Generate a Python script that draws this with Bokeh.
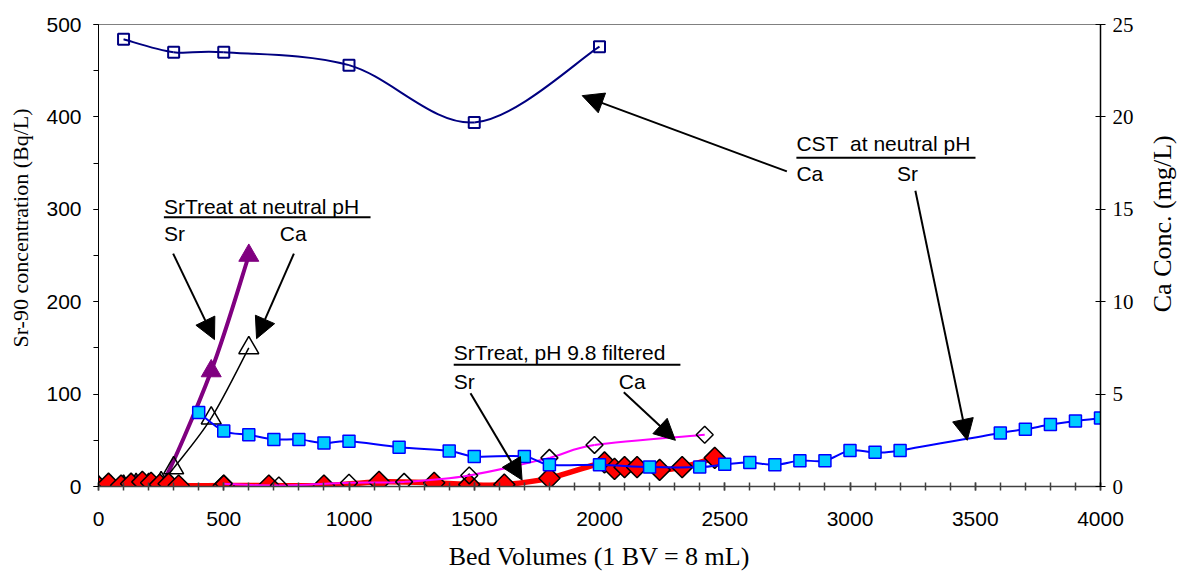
import numpy as np
from bokeh.plotting import figure
from bokeh.layouts import row
from bokeh.models import Range1d, LinearAxis, SingleIntervalTicker, Label, Arrow, NormalHead
from bokeh.embed import file_html
from bokeh.resources import INLINE

# ---------------- data ----------------
# CST at neutral pH, Ca (right axis, mg/L)
bv_cst_ca = [100, 300, 500, 1000, 1500, 2000]
ca_cst = [24.2, 23.5, 23.5, 22.8, 19.7, 23.8]

# CST at neutral pH, Sr-90 (left axis, Bq/L)
bv_cst_sr = [400, 500, 600, 700, 800, 900, 1000, 1200, 1400, 1500, 1700, 1800, 2000,
             2200, 2400, 2500, 2600, 2700, 2800, 2900, 3000, 3100, 3200, 3600, 3700,
             3800, 3900, 4000]
sr_cst = [80, 60, 56, 51, 51, 47, 49, 42.5, 38.5, 32.5, 32.5, 23.5, 23.5,
          21, 21, 24, 26, 23.5, 28, 28, 39, 37, 39, 58, 62,
          67, 71, 74]

# SrTreat at neutral pH, Sr (left) and Ca (right)
bv_srt_sr = [0, 50, 100, 150, 200, 250, 450, 600]
sr_srt = [0, 0, 0, 0, 0, 0, 125, 250]
bv_srt_ca = [40, 100, 150, 200, 250, 300, 450, 600]
ca_srt = [0, 0, 0.1, 0.1, 0.2, 1.0, 3.7, 7.5]

# SrTreat pH 9.8 filtered, Sr (left) and Ca (right)
bv_ph_sr = [0, 40, 90, 130, 175, 210, 245, 280, 320, 500, 680, 900, 1120, 1340, 1480,
            1620, 1800, 2020, 2060, 2100, 2150, 2240, 2330, 2460]
sr_ph = [0, 3, 1, 3, 5, 4, 2, 3, 1, 1, 1, 1, 5, 4, 2,
         2, 9, 26, 19, 21, 21, 18, 21, 31]
bv_ph_ca = [500, 720, 1000, 1220, 1480, 1800, 1980, 2420]
ca_ph = [0.15, 0.05, 0.2, 0.25, 0.6, 1.55, 2.25, 2.8]

x_ticks_step = 500
sr_ticks_step = 100
ca_ticks_step = 5


def smooth(xs, ys):
    """Bezier control points (Excel-like smoothed line) for a series."""
    n = len(xs)
    P = list(zip(xs, ys))
    d = dict(x0=[], y0=[], x1=[], y1=[], cx0=[], cy0=[], cx1=[], cy1=[])
    for i in range(n - 1):
        p0 = P[i - 1] if i > 0 else P[i]
        p1 = P[i]
        p2 = P[i + 1]
        p3 = P[i + 2] if i + 2 < n else P[i + 1]
        d["x0"].append(p1[0]); d["y0"].append(p1[1])
        d["x1"].append(p2[0]); d["y1"].append(p2[1])
        d["cx0"].append(p1[0] + (p2[0] - p0[0]) / 6.0)
        d["cy0"].append(p1[1] + (p2[1] - p0[1]) / 6.0)
        d["cx1"].append(p2[0] - (p3[0] - p1[0]) / 6.0)
        d["cy1"].append(p2[1] - (p3[1] - p1[1]) / 6.0)
    return d


W, H = 1148, 575
p = figure(width=W, height=H, output_backend="svg", toolbar_location=None,
           x_range=Range1d(0, 4000), y_range=Range1d(0, 500),
           min_border_left=98, min_border_right=W - 1100, min_border_top=24,
           min_border_bottom=H - 486)
p.extra_y_ranges = {"ca": Range1d(0, 25)}
p.xgrid.visible = False
p.ygrid.visible = False
p.outline_line_color = "#808080"
p.outline_line_width = 1
p.background_fill_color = "white"
p.border_fill_color = "white"

SANS = "Liberation Sans"
SERIF = "Liberation Serif"
NB = "\u00a0"

# x axis
xa = p.xaxis[0]
xa.ticker = SingleIntervalTicker(interval=x_ticks_step, num_minor_ticks=5)
xa.axis_line_color = "#404040"
xa.axis_line_width = 1.5
xa.major_tick_line_color = "#404040"
xa.minor_tick_line_color = "#404040"
xa.major_tick_line_width = 1.5
xa.minor_tick_line_width = 1.5
xa.major_tick_in = 4
xa.major_tick_out = 4
xa.minor_tick_in = 4
xa.minor_tick_out = 4
xa.major_label_standoff = 21
xa.major_label_text_font = SANS
xa.major_label_text_font_size = "21px"
xa.major_label_text_color = "black"
xa.axis_label = "Bed Volumes (1 BV = 8 mL)"
xa.axis_label_text_font = SERIF
xa.axis_label_text_font_size = "26px"
xa.axis_label_text_font_style = "normal"
xa.axis_label_text_color = "black"
xa.axis_label_standoff = 13

# left axis
ya = p.yaxis[0]
ya.ticker = SingleIntervalTicker(interval=sr_ticks_step, num_minor_ticks=2)
ya.axis_line_color = "black"
ya.axis_line_width = 1
ya.major_tick_line_color = "black"
ya.minor_tick_line_color = "black"
ya.major_tick_in = 0
ya.major_tick_out = 5
ya.minor_tick_in = 0
ya.minor_tick_out = 5
ya.major_label_standoff = 12
ya.major_label_text_font = SANS
ya.major_label_text_font_size = "21px"
ya.major_label_text_color = "black"
ya.axis_label = NB * 10 + "Sr-90 concentration (Bq/L)"
ya.axis_label_text_font = SERIF
ya.axis_label_text_font_size = "22px"
ya.axis_label_text_font_style = "normal"
ya.axis_label_text_color = "black"
ya.axis_label_standoff = 10

# right axis (Ca)
ra = LinearAxis(y_range_name="ca", ticker=SingleIntervalTicker(interval=ca_ticks_step, num_minor_ticks=0))
ra.axis_line_color = "black"
ra.axis_line_width = 1.5
ra.major_tick_line_color = "black"
ra.major_tick_in = 5
ra.major_tick_out = 5
ra.minor_tick_line_color = None
ra.major_label_standoff = 7
ra.major_label_text_font = SERIF
ra.major_label_text_font_size = "21px"
ra.major_label_text_color = "black"
p.add_layout(ra, "right")

# ---------------- series ----------------
# SrTreat neutral Sr (purple)
p.bezier(**smooth(bv_srt_sr, sr_srt), line_color="#800080", line_width=4, line_cap="round")
p.scatter(bv_srt_sr, sr_srt, marker="triangle", size=20, fill_color="#800080", line_color="#800080")

# SrTreat neutral Ca (open triangles, black line)
p.bezier(**smooth(bv_srt_ca, ca_srt), line_color="black", line_width=1.5, y_range_name="ca")
p.scatter(bv_srt_ca, ca_srt, marker="triangle", size=20, fill_alpha=0, line_color="black",
          line_width=1.5, y_range_name="ca")

# SrTreat pH 9.8 Sr (red diamonds, thick red line)
p.bezier(**smooth(bv_ph_sr, sr_ph), line_color="#FF0000", line_width=5.5, line_cap="round")
p.scatter(bv_ph_sr, sr_ph, marker="square", angle=np.pi / 4, size=15, fill_color="#FF0000",
          line_color="black", line_width=1.5)

# SrTreat pH 9.8 Ca (open diamonds, magenta)
p.bezier(**smooth(bv_ph_ca, ca_ph), line_color="#FF00FF", line_width=2, y_range_name="ca")
p.scatter(bv_ph_ca, ca_ph, marker="square", angle=np.pi / 4, size=12, fill_alpha=0,
          line_color="black", line_width=1.5, y_range_name="ca")

# CST Sr (cyan squares, blue line)
p.bezier(**smooth(bv_cst_sr, sr_cst), line_color="#0000FF", line_width=2)
p.scatter(bv_cst_sr, sr_cst, marker="square", size=12, fill_color="#00CCFF",
          line_color="#0000FF", line_width=1.5)

# CST Ca (open squares, navy line)
p.bezier(**smooth(bv_cst_ca, ca_cst), line_color="#000080", line_width=2, y_range_name="ca")
p.scatter(bv_cst_ca, ca_cst, marker="square", size=11, fill_alpha=0,
          line_color="#000080", line_width=2, y_range_name="ca")

# ---------------- annotations ----------------
def arrow(xs, ys, xe, ye):
    p.add_layout(Arrow(end=NormalHead(size=21, fill_color="black", line_color="black"),
                       x_start=xs, y_start=ys, x_end=xe, y_end=ye,
                       line_color="black", line_width=2))

arrow(2748, 341, 1931, 423)   # CST Ca
arrow(3261, 320, 3468, 50)    # CST Sr
arrow(298, 252, 463, 159)     # SrTreat neutral Sr
arrow(780, 252, 631, 160)     # SrTreat neutral Ca
arrow(1485, 101, 1691, 7)     # pH 9.8 Sr
arrow(2097, 102, 2303, 50)    # pH 9.8 Ca


def txt(x, y, s):
    p.add_layout(Label(x=x, y=y + 8, text=s, text_font=SANS, text_font_size="21px",
                       text_align="left", text_baseline="alphabetic", text_color="black"))

txt(261, 295.5, "SrTreat at neutral pH")
txt(261, 266, "Sr")
txt(724, 266, "Ca")
p.segment(x0=[261], y0=[291.5], x1=[1086], y1=[291.5], line_color="black", line_width=2)

txt(1418, 137, "SrTreat, pH 9.8 filtered")
txt(1418, 105.7, "Sr")
txt(2077, 105.7, "Ca")
p.segment(x0=[1418], y0=[131.7], x1=[2323], y1=[131.7], line_color="black", line_width=2)

txt(2786, 363, "CST\u00a0\u00a0at neutral pH")
txt(2786, 331, "Ca")
txt(3188, 331, "Sr")
p.segment(x0=[2786], y0=[355.7], x1=[3501], y1=[355.7], line_color="black", line_width=2)

# ---------------- right-hand axis title strip ----------------
TW = 30
t = figure(width=TW, height=H, output_backend="svg", toolbar_location=None,
           x_range=Range1d(0, TW), y_range=Range1d(0, H),
           x_axis_type=None, y_axis_type=None,
           min_border_left=0, min_border_right=0, min_border_top=0, min_border_bottom=0)
t.xgrid.visible = False
t.ygrid.visible = False
t.outline_line_color = None
t.background_fill_color = "white"
t.border_fill_color = "white"
t.add_layout(Label(x=14, y=H - 248, text="Ca Conc. (mg/L)", angle=np.pi / 2,
                   text_align="center", text_baseline="middle", text_font=SERIF,
                   text_font_size="26px", text_color="black"))

lay = row(p, t, spacing=0)
open("out.html", "w").write(file_html(lay, INLINE))
